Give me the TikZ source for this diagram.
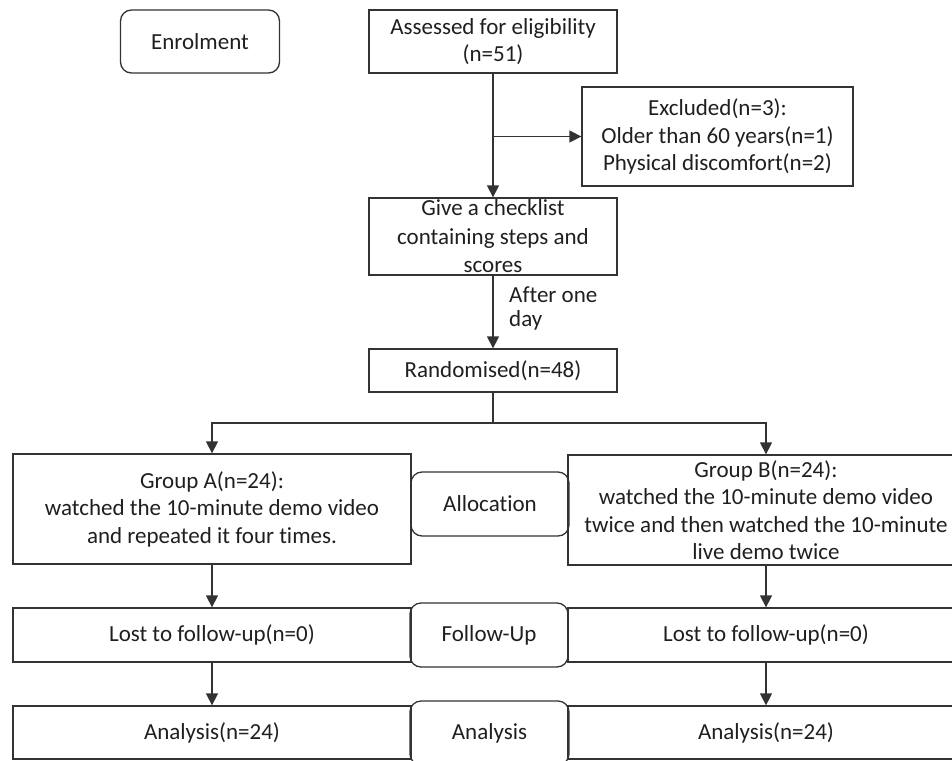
\documentclass[tikz,border=0pt]{standalone}
\usepackage{fontspec}
\setmainfont{Carlito}[Ligatures={NoCommon}]
\usetikzlibrary{arrows.meta}
\begin{document}
\begin{tikzpicture}[x=1pt,y=-1pt,
  every node/.style={font=\fontsize{23}{27.5}\selectfont, text=black!88},
  box/.style={draw=black!80, line width=1.3pt, rectangle, inner sep=1pt, align=center},
  rbox/.style={box, rounded corners=11pt},
  arr/.style={draw=black!80, line width=1.3pt, -{Triangle[width=12pt,length=12pt]}},
  ln/.style={draw=black!80, line width=1.3pt}]
\useasboundingbox (0,0) rectangle (952,760);
\clip (0,0) rectangle (952,760);
% enrolment stage
\node[rbox, minimum width=159pt, minimum height=63pt] (enrol) at (200,41.5) {Enrolment};
\node[box, minimum width=248pt, minimum height=63pt] (assess) at (493,41.5) {Assessed for eligibility\\(n=51)};
\node[box, minimum width=271pt, minimum height=99pt] (excl) at (717.5,136.5) {Excluded(n=3):\\Older than 60 years(n=1)\\Physical discomfort(n=2)};
\node[box, minimum width=248pt, minimum height=77pt] (check) at (493,236.5) {};
\node[align=center, inner sep=0pt, font=\fontsize{23}{28.5}\selectfont] (checktxt) at (check.center) {Give a checklist\\containing steps and\\scores};
\node[align=left, inner sep=0pt, anchor=west, font=\fontsize{23}{23.5}\selectfont] (after) at (509,308.5) {After one\\day};
\node[box, minimum width=248pt, minimum height=43pt] (rand) at (493,370.5) {Randomised(n=48)};
% allocation
\node[box, minimum width=398pt, minimum height=110pt] (ga) at (212,509) {Group A(n=24):\\watched the 10-minute demo video\\and repeated it four times.};
\node[box, minimum width=396pt, minimum height=110pt] (gb) at (766,510) {Group B(n=24):\\watched the 10-minute demo video\\twice and then watched the 10-minute\\live demo twice};
\node[rbox, minimum width=158pt, minimum height=64pt] (alloc) at (490,504) {Allocation};
% follow-up
\node[box, minimum width=398pt, minimum height=54pt] (la) at (212,635) {Lost to follow-up(n=0)};
\node[box, minimum width=396pt, minimum height=54pt] (lb) at (766,635) {Lost to follow-up(n=0)};
\node[rbox, minimum width=158pt, minimum height=64pt] (fu) at (489,635) {Follow-Up};
% analysis
\node[box, minimum width=398pt, minimum height=53pt] (aa) at (212,732.5) {Analysis(n=24)};
\node[box, minimum width=396pt, minimum height=53pt] (ab) at (766,732.5) {Analysis(n=24)};
\node[rbox, minimum width=159pt, minimum height=64pt] (an) at (489.5,733) {Analysis};
% connectors
\coordinate (j1) at (493,136.5);
\coordinate (split) at (493,423);
\draw[arr] (assess.south) -- (check.north);
\draw[arr] (j1) -- (excl.west);
\draw[arr] (check.south) -- (rand.north);
\draw[ln] (rand.south) -- (split);
\draw[arr] (split) -| (ga.north);
\draw[arr] (split) -| (gb.north);
\draw[arr] (ga.south) -- (la.north);
\draw[arr] (gb.south) -- (lb.north);
\draw[arr] (la.south) -- (aa.north);
\draw[arr] (lb.south) -- (ab.north);
\end{tikzpicture}
\end{document}
